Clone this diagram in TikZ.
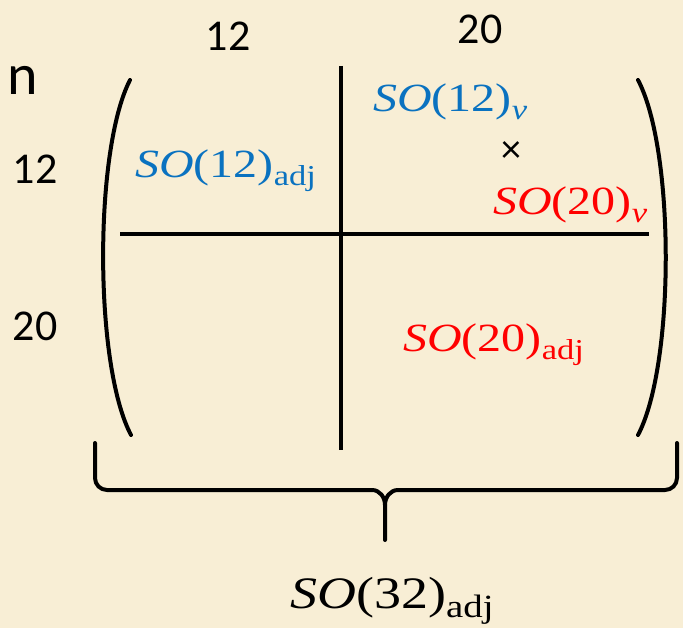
\documentclass[tikz,border=0pt]{standalone}
\usepackage{fontspec}
\setmainfont{Carlito}
\newfontfamily\grpfont[FakeStretch=1.2]{Liberation Serif}
\definecolor{bgpaper}{HTML}{F8EED5}
\definecolor{grpblue}{HTML}{0A72C0}
\definecolor{grpred}{HTML}{FF0000}
\newcommand\grpname[3]{{\grpfont\fontsize{#3}{#3}\selectfont\textit{SO}(#1)\raisebox{-0.2em}{\fontsize{0.72\dimexpr#3pt\relax}{10}\selectfont #2}}}
\tikzset{
  dimlabel/.style={inner sep=0pt, font=\fontsize{44}{44}\selectfont},
  grplabel/.style={inner sep=0pt, anchor=base west},
  bar/.style={line width=3.5pt},
  parenline/.style={line width=4pt, line cap=round},
}
\begin{document}
\begin{tikzpicture}[x=1pt,y=-1pt]
\fill[bgpaper] (0,0) rectangle (683,628);
\useasboundingbox (0,0) rectangle (683,628);
% dimension labels
\node[inner sep=0pt, font=\fontsize{58}{58}\selectfont] (n) at (23,80) {n};
\node[dimlabel] (c12) at (228,36) {12};
\node[dimlabel] (c20) at (480,29) {20};
\node[dimlabel] (r12) at (35,169) {12};
\node[dimlabel] (r20) at (35,326) {20};
% parentheses
\draw[parenline] (130,80) .. controls (94,150) and (94,365) .. (131,435);
\draw[parenline] (638,80) .. controls (675,150) and (675,365) .. (638,435);
% partition lines
\coordinate (vt) at (341,66);
\coordinate (vb) at (341,450);
\coordinate (hl) at (120,234);
\coordinate (hr) at (649,234);
\draw[bar] (vt) -- (vb);
\draw[bar] (hl) -- (hr);
% blocks
\node[grplabel, text=grpblue] (a) at (135,178) {\grpname{12}{adj}{40}};
\node[grplabel, text=grpblue] (b) at (373,112) {\grpname{12}{\textit{v}}{40}};
\node[inner sep=0pt, font=\fontsize{40}{40}\selectfont] (x) at (511,152) {×};
\node[grplabel, text=grpred] (c) at (493,215) {\grpname{20}{\textit{v}}{40}};
\node[grplabel, text=grpred] (d) at (403,352) {\grpname{20}{adj}{40}};
% brace
\draw[parenline, line join=round] (95,443) -- (95,478) to[out=-90,in=180] (107,490) -- (372,490) to[out=0,in=90] (385,505) -- (385,540);
\draw[parenline, line join=round] (385,505) to[out=90,in=180] (398,490) -- (665,490) to[out=0,in=-90] (677,478) -- (677,443);
\node[grplabel, text=black] (e) at (290,608) {\grpname{32}{adj}{45}};
\end{tikzpicture}
\end{document}
